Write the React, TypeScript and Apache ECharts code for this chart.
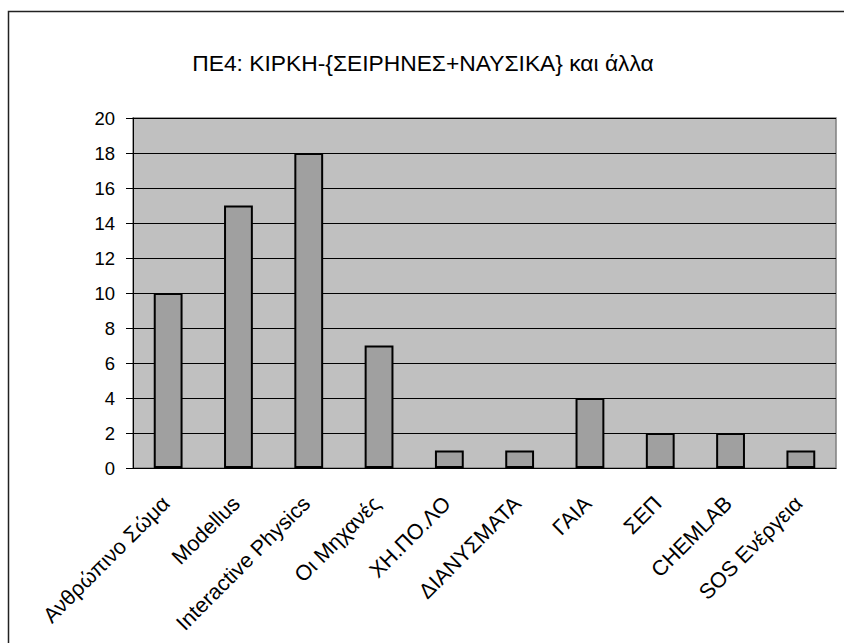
import React, { useEffect, useRef } from "react";
import * as echarts from "echarts";

const categories = [
  "Ανθρώπινο Σώμα",
  "Modellus",
  "Interactive Physics",
  "Οι Μηχανές",
  "ΧΗ.ΠΟ.ΛΟ",
  "ΔΙΑΝΥΣΜΑΤΑ",
  "ΓΑΙΑ",
  "ΣΕΠ",
  "CHEMLAB",
  "SOS Ενέργεια",
];
const values = [10, 15, 18, 7, 1, 1, 4, 2, 2, 1];
const titleText = "ΠΕ4: ΚΙΡΚΗ-{ΣΕΙΡΗΝΕΣ+ΝΑΥΣΙΚΑ} και άλλα";
const yMin = 0;
const yMax = 20;
const yStep = 2;

const FONT = "'Liberation Sans', Arial, sans-serif";

export default function App() {
  const ref = useRef<HTMLDivElement>(null);
  useEffect(() => {
    document.body.style.margin = "0";
    const chart = echarts.init(ref.current!, null, { renderer: "svg" });
    chart.setOption({
      animation: false,
      backgroundColor: "#ffffff",
      title: {
        text: titleText,
        left: 418,
        top: 46,
        textAlign: "center",
        textStyle: { fontFamily: FONT, fontSize: 22.8, fontWeight: "normal", color: "#000" },
      },
      graphic: [
        {
          type: "rect",
          shape: { x: 8.5, y: 11.5, width: 900, height: 700 },
          style: { fill: "none", stroke: "#222", lineWidth: 1.5 },
          z: 100,
        },
      ],
      grid: {
        left: 133,
        top: 118,
        right: 8,
        bottom: 175,
        show: true,
        backgroundColor: "#C0C0C0",
        borderColor: "#808080",
        borderWidth: 1.5,
      },
      xAxis: {
        type: "category",
        data: categories,
        axisLine: { lineStyle: { color: "#000", width: 1 } },
        axisTick: { length: 6, lineStyle: { color: "#000" } },
        axisLabel: {
          rotate: 45,
          interval: 0,
          margin: 30,
          padding: [0, 3, 0, 0],
          fontFamily: FONT,
          fontSize: 21.5,
          color: "#000",
        },
      },
      yAxis: {
        type: "value",
        min: yMin,
        max: yMax,
        interval: yStep,
        axisLine: { show: true, lineStyle: { color: "#000", width: 1 } },
        axisTick: { show: true, length: 7, lineStyle: { color: "#000" } },
        axisLabel: { margin: 18, fontFamily: FONT, fontSize: 18.5, color: "#000" },
        splitLine: { show: true, lineStyle: { color: "#000", width: 1 } },
      },
      series: [
        {
          type: "bar",
          data: values,
          barWidth: "41%",
          itemStyle: { color: "#A0A0A0", borderColor: "#000", borderWidth: 2 },
        },
      ],
    });
    return () => chart.dispose();
  }, []);
  return <div ref={ref} style={{ width: 844, height: 643 }} />;
}
